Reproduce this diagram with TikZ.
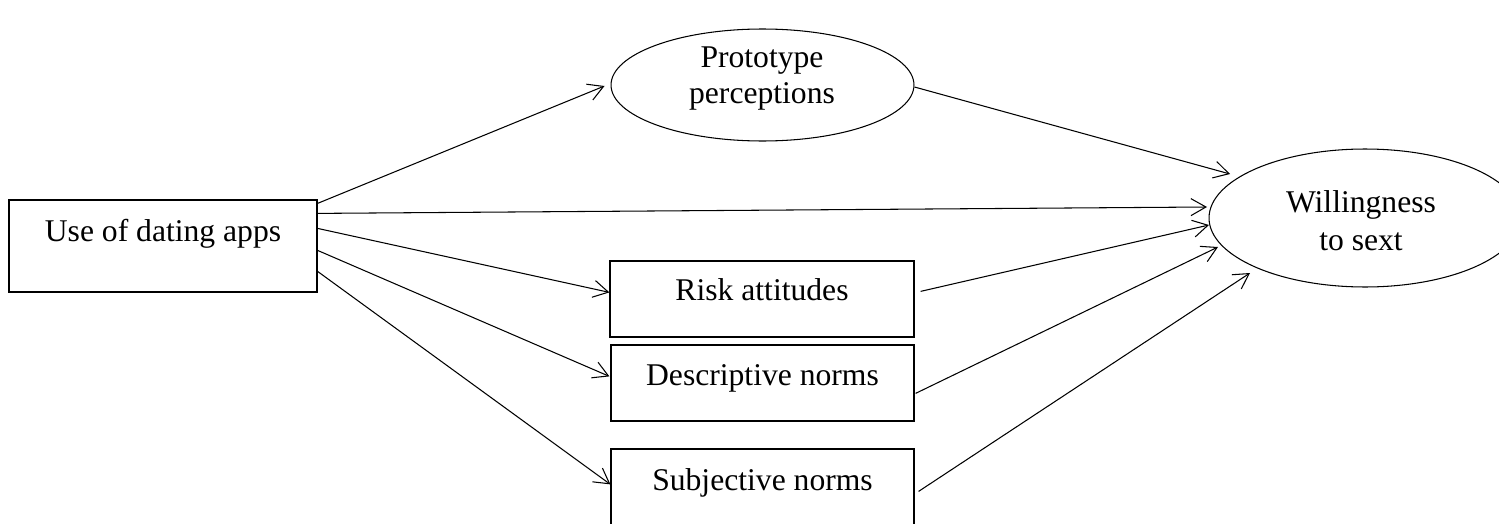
\documentclass[tikz,border=0pt]{standalone}
\usepackage{fontspec}
\setmainfont{Liberation Serif}
\usetikzlibrary{arrows.meta,calc,shapes.geometric}
\begin{document}
\begin{tikzpicture}[x=0.02cm,y=-0.02cm,
  every node/.style={font=\fontsize{18}{21}\selectfont},
  boxnode/.style={draw,line width=0.7pt,inner sep=0pt,rectangle},
  ovalnode/.style={draw,line width=0.6pt,inner sep=0pt,ellipse},
  txt/.style={anchor=base,inner sep=0pt},
  conn/.style={line width=0.6pt,-{Straight Barb[length=3mm,width=3.4mm,line width=0.6pt]}}]
\useasboundingbox (0,0) rectangle (1499,524);
\clip (0,0) rectangle (1499,524);
% nodes
\node[boxnode,minimum width=6.16cm,text height=0.82cm,text depth=1.02cm] (use) at (163,246) {Use of dating apps};
\node[boxnode,minimum width=6.08cm,text height=0.79cm,text depth=0.73cm] (risk) at (762,299) {Risk attitudes};
\node[boxnode,minimum width=6.06cm,text height=0.80cm,text depth=0.72cm] (desc) at (762.5,383) {Descriptive norms};
\node[boxnode,minimum width=6.06cm,text height=0.82cm,text depth=0.78cm] (subj) at (762.5,489) {Subjective norms};
\node[ovalnode,minimum width=6.06cm,minimum height=2.24cm] (proto) at (762.5,85) {};
\node[txt] (protoA) at (762,67) {Prototype};
\node[txt] (protoB) at (762,103) {perceptions};
\node[ovalnode,minimum width=6.24cm,minimum height=2.76cm] (will) at (1365,218) {};
\node[txt] (willA) at (1361,212) {Willingness};
\node[txt] (willB) at (1361,250) {to sext};
% connectors from use
\draw[conn] ($(use.north east)+(0,4)$) -- ($(proto.west)+(-6,1)$);
\draw[conn] ($(use.north east)+(0,14)$) -- ($(will.center)+(-158,-11)$);
\draw[conn] ($(use.north east)+(0,29)$) -- ($(risk.north west)+(0,32)$);
\draw[conn] ($(use.north east)+(0,51)$) -- ($(desc.north west)+(-1,32)$);
\draw[conn] ($(use.north east)+(0,72)$) -- ($(subj.north west)+(0,36)$);
% connectors to will
\draw[conn] ($(proto.east)+(0,2)$) -- ($(will.center)+(-135,-44)$);
\draw[conn] ($(risk.north east)+(6,31)$) -- ($(will.center)+(-156,7)$);
\draw[conn] ($(desc.north east)+(1,49)$) -- ($(will.center)+(-147,29)$);
\draw[conn] ($(subj.north east)+(4,43)$) -- ($(will.center)+(-115,55)$);
\end{tikzpicture}
\end{document}
